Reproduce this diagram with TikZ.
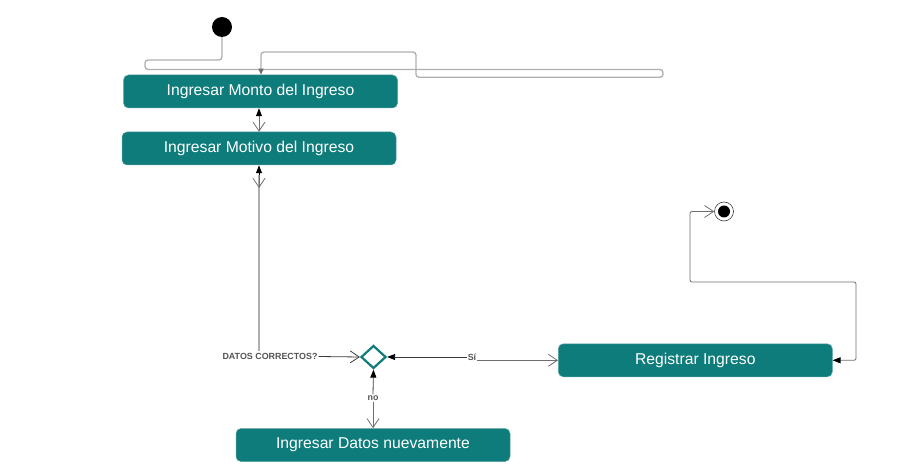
\documentclass[tikz,border=0pt]{standalone}
\usepackage{fontspec}
\setmainfont{Liberation Sans}
\usetikzlibrary{arrows.meta,shapes.geometric}
\definecolor{tealbox}{RGB}{14,124,123}
\definecolor{tealedge}{RGB}{90,160,160}
\definecolor{lblgray}{RGB}{85,85,85}
\definecolor{darkline}{RGB}{60,60,60}
\definecolor{midline}{RGB}{110,110,110}
\definecolor{lightline}{RGB}{175,175,175}
\tikzset{
  act/.style={rectangle, rounded corners=5pt, fill=tealbox, draw=tealedge, line width=0.5pt,
    text=white, minimum width=274pt, minimum height=33pt, inner sep=0pt,
    font=\fontsize{15.7}{18}\selectfont},
  lbl/.style={font=\bfseries\fontsize{8.9}{10}\selectfont, text=lblgray, inner sep=1pt, fill=white},
  conn/.style={draw=darkline, line width=0.8pt},
  lconn/.style={draw=lightline, line width=1.3pt},
  filltip/.tip={Triangle[width=6pt,length=8pt,fill=black,color=black]},
  opentip/.tip={Straight Barb[length=9pt,width=12pt,line width=0.8pt]},
  smalltip/.tip={Triangle[width=5pt,length=6pt,fill=midline,color=midline]},
}
\begin{document}
\begin{tikzpicture}[x=1pt,y=-1pt]
\useasboundingbox (0,0) rectangle (923,470);
% nodes
\node[circle, fill=black, minimum size=20pt, inner sep=0pt] (start) at (222,27) {};
\node[act] (monto) at (260.5,91.5) {Ingresar Monto del Ingreso};
\node[act] (motivo) at (259,148.5) {Ingresar Motivo del Ingreso};
\node[diamond, draw=tealbox, line width=2.2pt, fill=white, minimum width=25pt, minimum height=23pt, inner sep=0pt] (dec) at (373.5,357) {};
\node[act] (reg) at (695.3,360.3) {Registrar Ingreso};
\node[act] (datos) at (373,445) {Ingresar Datos nuevamente};
\node[circle, draw=darkline, line width=0.6pt, fill=white, minimum size=19pt, inner sep=0pt] (fin) at (724,211.5) {};
\node[circle, fill=black, minimum size=12pt, inner sep=0pt] at (fin.center) {};
% labels
\node[lbl] (qlbl) at (270,356.5) {DATOS CORRECTOS?};
\node[lbl, inner sep=0.5pt] (si) at (472,357) {Sí};
\node[lbl] (no) at (373,398) {no};
% coordinates
\coordinate (c1) at (222,60);
\coordinate (c2) at (145,60);
\coordinate (c3) at (145,69.5);
\coordinate (c4) at (663,69.5);
\coordinate (c5) at (663,77.3);
\coordinate (c6) at (416,77.3);
\coordinate (c7) at (416,52);
\coordinate (c8) at (261,52);
\coordinate (r1) at (856,360.3);
\coordinate (r2) at (856,282);
\coordinate (r3) at (690,282);
\coordinate (r4) at (690,211.5);
\coordinate (b1) at (259,175);
\coordinate (b2) at (259,188);
\coordinate (qc) at (259,351);
% top messy connector
\draw[lconn, rounded corners=3pt, -smalltip] (start.south) -- (c1) -- (c2) -- (c3) -- (c4) -- (c5) -- (c6) -- (c7) -- (c8) -- (c8 |- monto.north);
% monto <-> motivo
\draw[conn, draw=midline, filltip-opentip] (motivo.north |- monto.south) -- (motivo.north);
% motivo -> decision
\draw[filltip-, draw=black, line width=0.8pt] (motivo.south) -- (b1);
\draw[lconn] (b1) -- (qc);
\draw[draw=midline, line width=0.8pt, -opentip] (b1) -- (b2);
\draw[conn, -opentip] (qlbl.east) -- (dec.west);
% decision <-> registrar
\draw[conn, -filltip] (si.west) -- (dec.east);
\draw[conn, draw=midline, -opentip] (si.east |- reg.west) -- (reg.west);
% decision <-> datos
\draw[conn, -filltip] (no.north) -- (dec.south);
\draw[conn, draw=midline, -opentip] (no.south) -- (datos.north);
% registrar -> fin
\draw[conn, draw=midline, rounded corners=2pt, filltip-opentip] (reg.east) -- (r1) -- (r2) -- (r3) -- (r4) -- (fin.west);
\end{tikzpicture}
\end{document}
